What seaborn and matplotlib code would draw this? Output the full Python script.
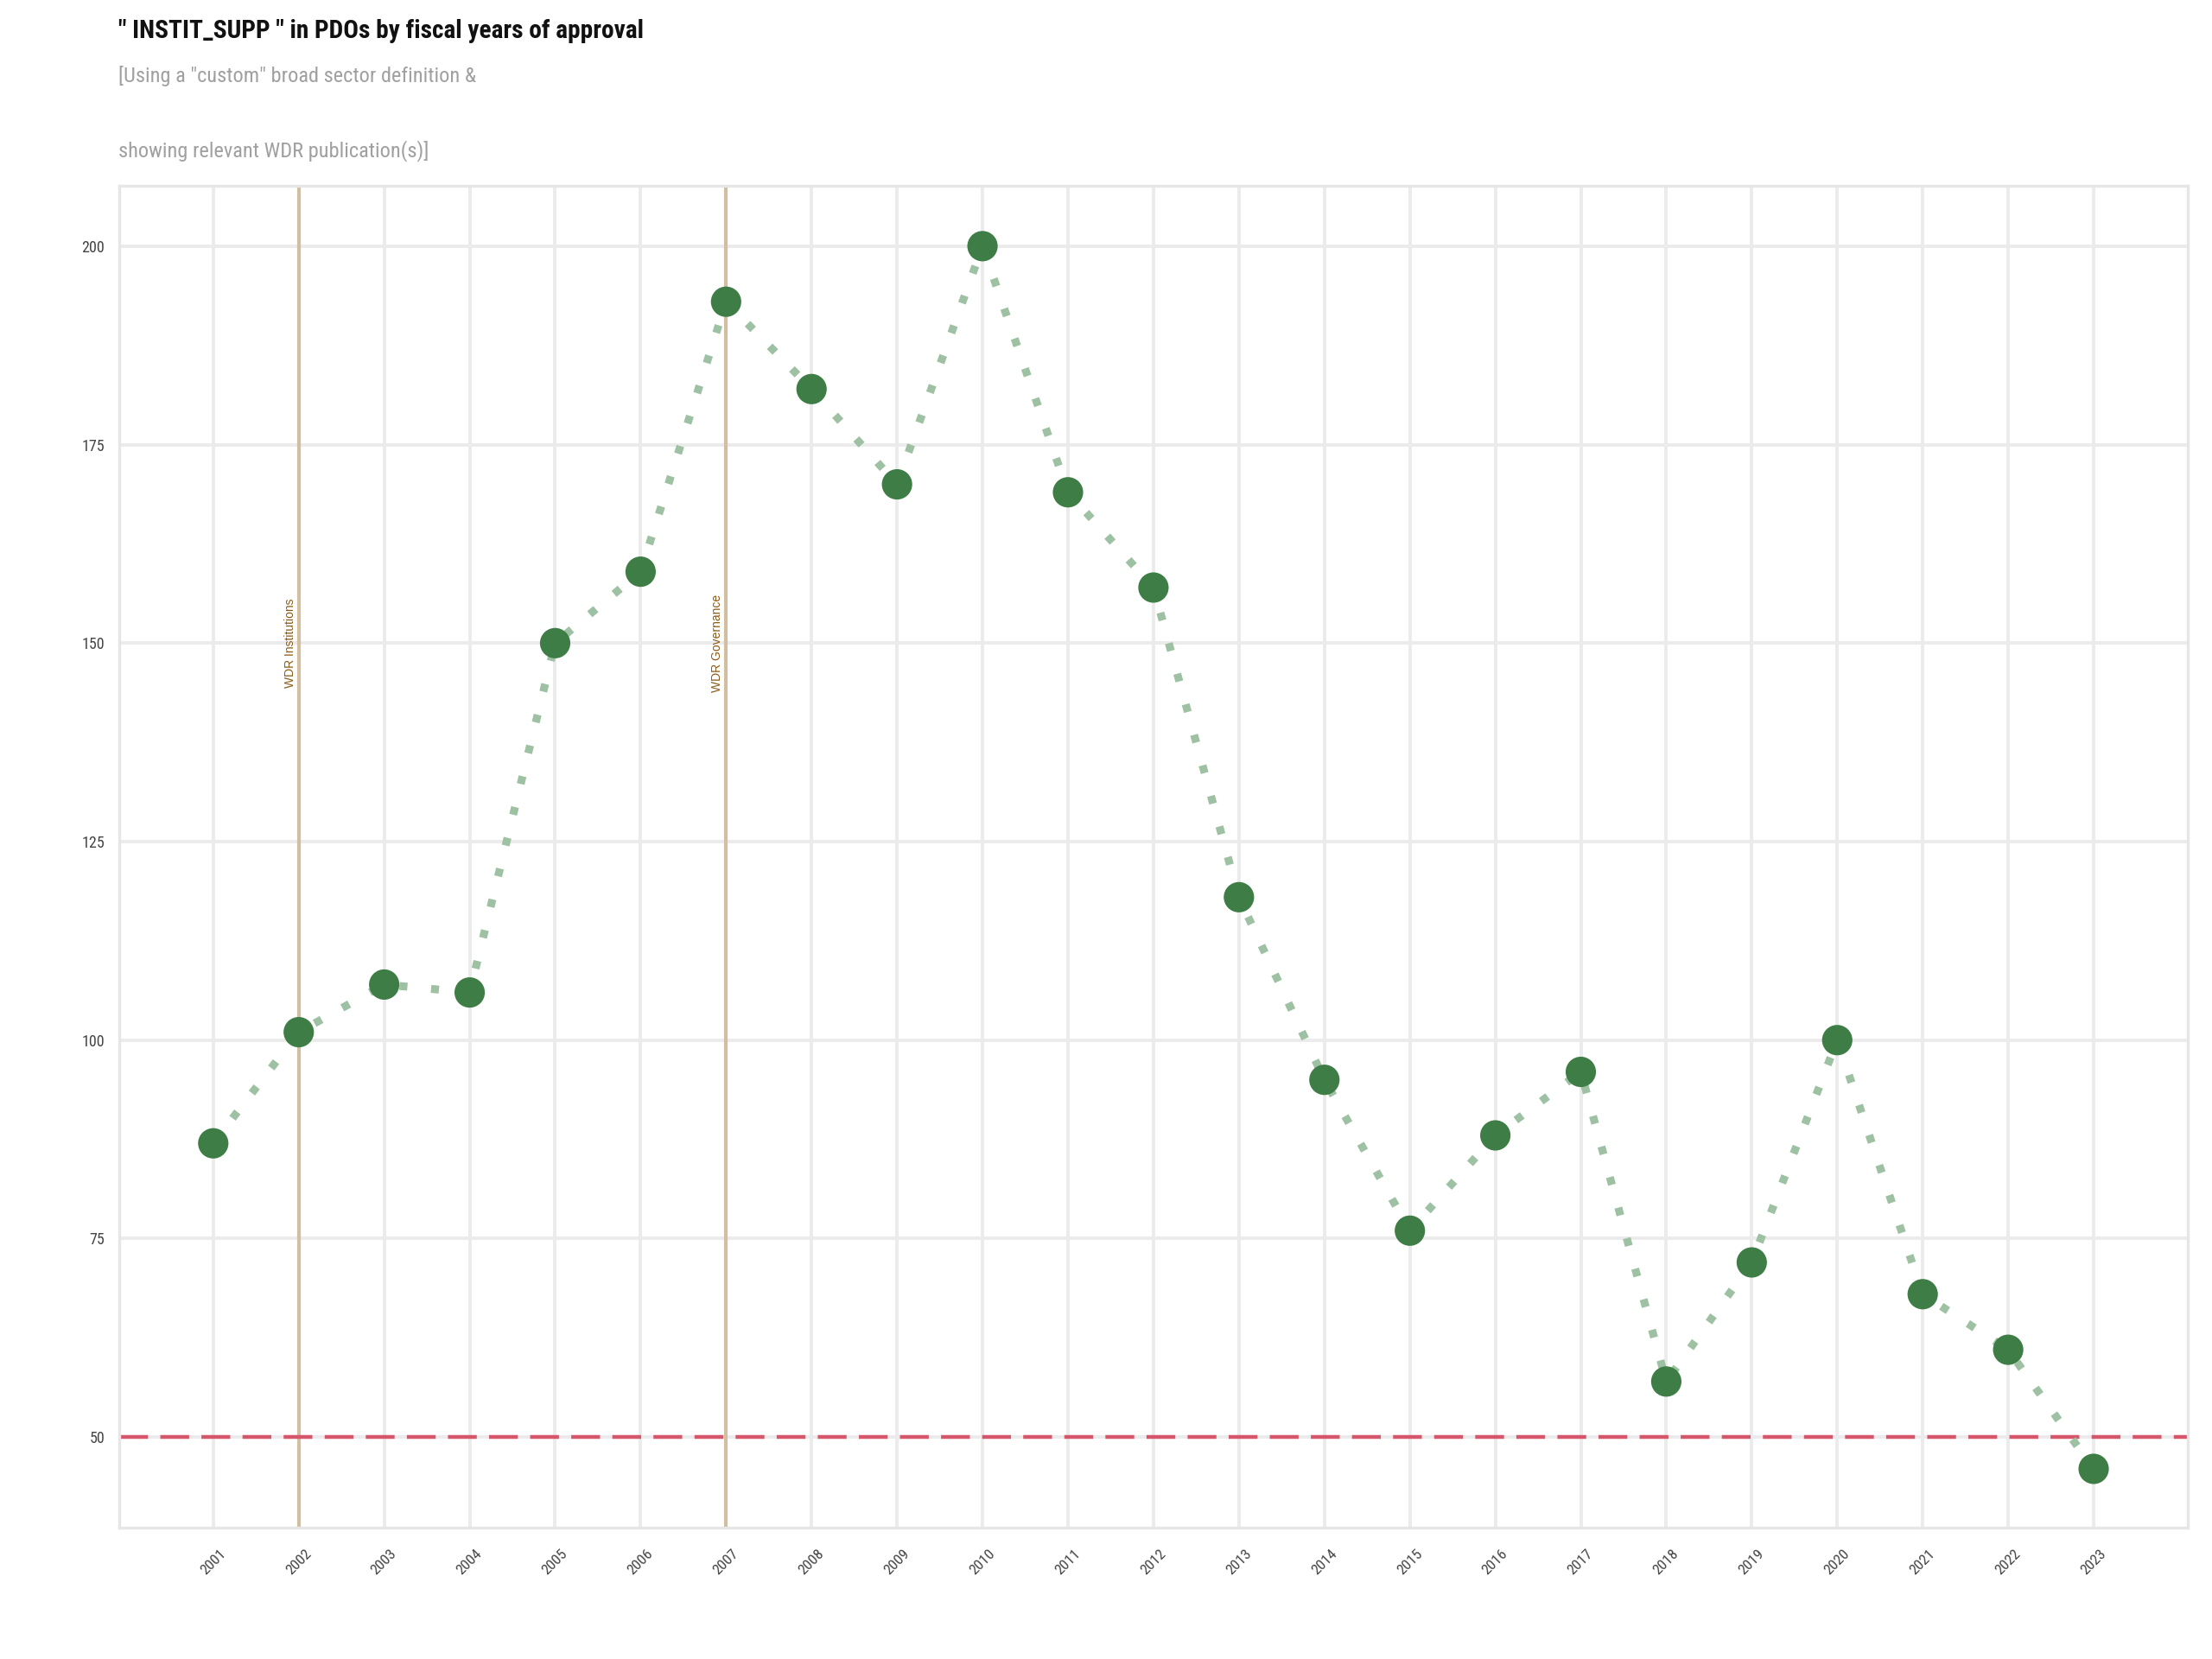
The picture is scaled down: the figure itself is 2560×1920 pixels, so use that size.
import matplotlib
matplotlib.use("Agg")
import matplotlib.pyplot as plt
from matplotlib import font_manager
import seaborn as sns
import pandas as pd

years = [2001, 2002, 2003, 2004, 2005, 2006, 2007, 2008, 2009, 2010, 2011, 2012,
         2013, 2014, 2015, 2016, 2017, 2018, 2019, 2020, 2021, 2022, 2023]
counts = [87, 101, 107, 106, 150, 159, 193, 182, 170, 200, 169, 157,
          118, 95, 76, 88, 96, 57, 72, 100, 68, 61, 46]
wdr_years = [2002, 2007]
wdr_labels = ["WDR Institutions", "WDR Governance"]
y_ticks = [50, 75, 100, 125, 150, 175, 200]
threshold = 50
title = '" INSTIT_SUPP " in PDOs by fiscal years of approval'
subtitle1 = '[Using a "custom" broad sector definition &'
subtitle2 = 'showing relevant WDR publication(s)]'

df = pd.DataFrame({"year": years, "count": counts})

sns.set_theme(style="white")
available = {f.name for f in font_manager.fontManager.ttflist}
main_font = "Roboto"
for cand in ["Roboto Condensed", "Liberation Sans Narrow", "Roboto"]:
    if cand in available:
        main_font = cand
        break
plt.rcParams["font.family"] = [main_font, "DejaVu Sans"]

fig = plt.figure(figsize=(12.8, 9.6), dpi=200)
ax = fig.add_axes([0.0539, 0.0792, 0.9351, 0.8088])

# grid
ax.set_axisbelow(True)
ax.grid(True, color="#EBEBEB", linewidth=1.4)
for s in ax.spines.values():
    s.set_color("#E6E6E6")
    s.set_linewidth(1.2)

# WDR lines
for yr, lab in zip(wdr_years, wdr_labels):
    ax.axvline(yr, color="#D2BFA2", linewidth=1.5, zorder=2)
    ax.text(yr - 0.03, 150, lab, rotation=90, ha="right", va="center",
            fontsize=5, color="#8B5A14", family=["Liberation Sans", "DejaVu Sans"], zorder=3)

# threshold
ax.axhline(threshold, color="#D6566C", linewidth=1.6, dashes=(7.5, 3.2), zorder=2)

# dotted connecting line
sns.lineplot(data=df, x="year", y="count", ax=ax, color="#9DC1A2",
             linewidth=3.3, zorder=3)
ax.lines[-1].set_dashes((1, 3))
ax.lines[-1].set_dash_capstyle("butt")

sns.scatterplot(data=df, x="year", y="count", ax=ax, color="#3E7D46",
                s=160, edgecolor="none", zorder=4)

ax.set_xlim(1999.9, 2024.1)
ax.set_ylim(38.6, 207.6)
ax.set_xticks(years)
ax.set_xticklabels([str(y) for y in years], rotation=45, fontsize=6.2, color="#444444")
ax.set_yticks(y_ticks)
ax.set_yticklabels([str(v) for v in y_ticks], fontsize=6.5, color="#444444")
ax.tick_params(axis="both", length=0, pad=6)
ax.tick_params(axis="x", pad=8)
ax.set_xlabel("")
ax.set_ylabel("")

fig.text(0.0535, 0.981, title, fontsize=10.6, fontweight="bold", color="#111111",
         ha="left", va="center")
fig.text(0.0535, 0.954, subtitle1, fontsize=8.8, color="#A0A0A0", ha="left", va="center")
fig.text(0.0535, 0.909, subtitle2, fontsize=8.8, color="#A0A0A0", ha="left", va="center")

fig.savefig("out.png", dpi=200, facecolor="white")
